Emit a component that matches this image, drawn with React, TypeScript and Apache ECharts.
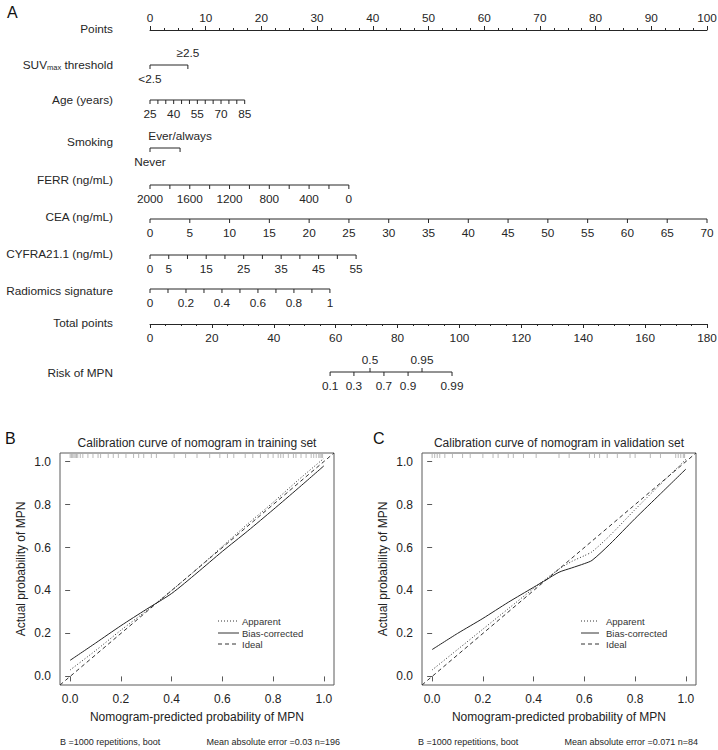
import React, { useEffect, useRef } from 'react';
import * as echarts from 'echarts';

const FONT = '"Liberation Sans", Arial, Helvetica, sans-serif';
const INK = '#262626';
const FRAME = '#5a5a5a';
const NOMO_FS = 11.8;

// ---------------- Panel A: nomogram ----------------
const rowNames = ['Points', 'SUVmax threshold', 'Age (years)', 'Smoking', 'FERR (ng/mL)', 'CEA (ng/mL)', 'CYFRA21.1 (ng/mL)', 'Radiomics signature', 'Total points', 'Risk of MPN'];

const suvLevels = ['<2.5', '≥2.5'];
const suvPoints = [0, 6.8];

const ageTicks = [25, 30, 35, 40, 45, 50, 55, 60, 65, 70, 75, 80, 85];
const ageLabels = [25, 40, 55, 70, 85];
const ageRange = [25, 85];
const agePoints = [0, 17];

const smokingLevels = ['Never', 'Ever/always'];
const smokingPoints = [0, 5.4];

const ferrTicks = [0, 200, 400, 600, 800, 1000, 1200, 1400, 1600, 1800, 2000];
const ferrLabels = [2000, 1600, 1200, 800, 400, 0];
const ferrRange = [0, 2000];
const ferrPoints = [35.7, 0];

const ceaTicks = [0, 5, 10, 15, 20, 25, 30, 35, 40, 45, 50, 55, 60, 65, 70];
const ceaLabels = [0, 5, 10, 15, 20, 25, 30, 35, 40, 45, 50, 55, 60, 65, 70];
const ceaRange = [0, 70];
const ceaPoints = [0, 100];

const cyfraTicks = [0, 5, 10, 15, 20, 25, 30, 35, 40, 45, 50, 55];
const cyfraLabels = [0, 5, 15, 25, 35, 45, 55];
const cyfraRange = [0, 55];
const cyfraPoints = [0, 37];

const radTicks = [0, 0.1, 0.2, 0.3, 0.4, 0.5, 0.6, 0.7, 0.8, 0.9, 1];
const radLabels = [0, 0.2, 0.4, 0.6, 0.8, 1];
const radRange = [0, 1];
const radPoints = [0, 32.3];

const riskValues = [0.1, 0.3, 0.5, 0.7, 0.9, 0.95, 0.99];
const riskTotalPoints = [58.2, 65.9, 71.1, 75.6, 83.4, 87.9, 97.6];
const riskAbove = [0.5, 0.95];

// ---------------- Panels B & C: calibration ----------------
const trainGrid = [0, 0.1, 0.2, 0.3, 0.4, 0.5, 0.6, 0.7, 0.8, 0.9, 1.0];
const trainApparent = [0.03, 0.12, 0.215, 0.305, 0.4, 0.5, 0.605, 0.71, 0.81, 0.915, 1.015];
const trainBias = [0.075, 0.155, 0.236, 0.312, 0.386, 0.482, 0.582, 0.677, 0.776, 0.877, 0.98];

const valGrid = [0, 0.1, 0.2, 0.3, 0.4, 0.45, 0.5, 0.55, 0.6, 0.63, 0.7, 0.8, 0.9, 1.0];
const valApparent = [0.03, 0.125, 0.22, 0.315, 0.41, 0.455, 0.5, 0.535, 0.562, 0.58, 0.655, 0.777, 0.895, 1.01];
const valBias = [0.125, 0.2, 0.27, 0.345, 0.415, 0.45, 0.485, 0.505, 0.525, 0.54, 0.615, 0.735, 0.85, 0.965];

const idealLine = [-0.04, 1.04];

const rugTrain = [0.0, 0.005, 0.01, 0.015, 0.02, 0.025, 0.03, 0.04, 0.05, 0.07, 0.09, 0.11, 0.12, 0.15, 0.17, 0.19, 0.22, 0.25, 0.27, 0.29, 0.32, 0.34, 0.41, 0.455, 0.5, 0.55, 0.59, 0.62, 0.645, 0.69, 0.72, 0.75, 0.78, 0.8, 0.82, 0.83, 0.84, 0.86, 0.88, 0.89, 0.91, 0.93, 0.95, 0.96, 0.97, 0.98, 0.985, 0.99, 0.995];
const rugVal = [0.0, 0.01, 0.02, 0.03, 0.05, 0.08, 0.12, 0.15, 0.2, 0.24, 0.26, 0.3, 0.32, 0.36, 0.41, 0.5, 0.54, 0.62, 0.64, 0.66, 0.69, 0.73, 0.78, 0.8, 0.86, 0.9, 0.96, 0.97, 0.98, 0.99, 0.995];

const calTicks = [0, 0.2, 0.4, 0.6, 0.8, 1.0];

// ---------------- layout (pixels) ----------------
const NOMO_TOP = 30;
const lineY = [30, 65, 100, 148, 185, 219, 255, 289, 324, 372];
const nameY = [29, 65, 100, 142, 180, 217, 254, 291, 323, 373];

const fmt = (v: number) => String(Math.round(v * 1000) / 1000);
const has = (arr: number[], v: number) => arr.some((a) => Math.abs(a - v) < 1e-9);
const toPts = (v: number, range: number[], pts: number[]) =>
  pts[0] + ((v - range[0]) / (range[1] - range[0])) * (pts[1] - pts[0]);

type TickItem = { p: number; y: number; label: string; tickDir: number; labelDir: number; len: number };

function contRow(ticks: number[], labels: number[], range: number[], pts: number[], rowIdx: number): TickItem[] {
  const y = lineY[rowIdx] - NOMO_TOP;
  return ticks.map((v) => ({ p: toPts(v, range, pts), y, label: has(labels, v) ? fmt(v) : '', tickDir: 1, labelDir: 1, len: 4 }));
}

function catRow(levels: string[], pts: number[], rowIdx: number, labelDirs: number[]): TickItem[] {
  const y = lineY[rowIdx] - NOMO_TOP;
  return levels.map((l, i) => ({ p: pts[i], y, label: l, tickDir: 1, labelDir: labelDirs[i], len: 4 }));
}

function textStyle(text: string, x: number, y: number, size: number, align: string, valign: string, extra: any = {}) {
  return {
    text, x, y,
    font: `${size}px ${FONT}`,
    fontSize: size,
    fontFamily: FONT,
    fill: INK,
    align, textAlign: align,
    verticalAlign: valign, textVerticalAlign: valign,
    ...extra,
  };
}

function tickSeries(items: TickItem[], xi: number, yi: number) {
  return {
    type: 'custom',
    xAxisIndex: xi,
    yAxisIndex: yi,
    silent: true,
    clip: false,
    data: items.map((it) => [it.p, it.y]),
    renderItem: (params: any, api: any) => {
      const it = items[params.dataIndex];
      const pt = api.coord([api.value(0), api.value(1)]);
      const children: any[] = [
        {
          type: 'line',
          shape: { x1: pt[0], y1: pt[1], x2: pt[0], y2: pt[1] + it.tickDir * it.len },
          style: { stroke: INK, lineWidth: 1 },
        },
      ];
      if (it.label) {
        const dy = it.labelDir > 0 ? 14 : -12;
        children.push({ type: 'text', style: textStyle(it.label, pt[0], pt[1] + dy, NOMO_FS, 'center', 'middle') });
      }
      return { type: 'group', children };
    },
  };
}

function axisLineSeries(p0: number, p1: number, y: number, xi: number, yi: number) {
  return {
    type: 'line', xAxisIndex: xi, yAxisIndex: yi, silent: true, clip: false,
    data: [[p0, y], [p1, y]], symbol: 'none',
    lineStyle: { color: INK, width: 1 },
  };
}

function buildOption() {
  const series: any[] = [];

  const rows: { items: TickItem[]; p0: number; p1: number; y: number }[] = [];
  const addRow = (items: TickItem[]) => {
    const ps = items.map((i) => i.p);
    rows.push({ items, p0: Math.min(...ps), p1: Math.max(...ps), y: items[0].y });
  };
  addRow(catRow(suvLevels, suvPoints, 1, [1, -1]));
  addRow(contRow(ageTicks, ageLabels, ageRange, agePoints, 2));
  addRow(catRow(smokingLevels, smokingPoints, 3, [1, -1]));
  addRow(contRow(ferrTicks, ferrLabels, ferrRange, ferrPoints, 4));
  addRow(contRow(ceaTicks, ceaLabels, ceaRange, ceaPoints, 5));
  addRow(contRow(cyfraTicks, cyfraLabels, cyfraRange, cyfraPoints, 6));
  addRow(contRow(radTicks, radLabels, radRange, radPoints, 7));
  rows.forEach((r) => {
    series.push(axisLineSeries(r.p0, r.p1, r.y, 0, 0));
    series.push(tickSeries(r.items, 0, 0));
  });

  const riskY = lineY[9] - lineY[8];
  const riskItems: TickItem[] = riskValues.map((v, i) => {
    const up = has(riskAbove, v);
    return { p: riskTotalPoints[i], y: riskY, label: fmt(v), tickDir: up ? -1 : 1, labelDir: up ? -1 : 1, len: 4 };
  });
  series.push(axisLineSeries(riskTotalPoints[0], riskTotalPoints[riskTotalPoints.length - 1], riskY, 1, 1));
  series.push(tickSeries(riskItems, 1, 1));

  series.push({
    type: 'custom', xAxisIndex: 0, yAxisIndex: 0, silent: true, clip: false,
    data: rowNames.map((_, i) => [0, nameY[i] - NOMO_TOP]),
    renderItem: (params: any, api: any) => {
      const pt = api.coord([api.value(0), api.value(1)]);
      const name = rowNames[params.dataIndex];
      const x = pt[0] - 37;
      if (name.startsWith('SUVmax')) {
        return {
          type: 'text',
          style: {
            ...textStyle('{a|SUV}{b|max}{a| threshold}', x, pt[1], NOMO_FS, 'right', 'middle'),
            rich: {
              a: { fontSize: NOMO_FS, fontFamily: FONT, fill: INK, color: INK },
              b: { fontSize: 7.5, fontFamily: FONT, fill: INK, color: INK, padding: [5, 0, 0, 0] },
            },
          },
        };
      }
      return { type: 'text', style: textStyle(name, x, pt[1], NOMO_FS, 'right', 'middle') };
    },
  });

  const calSeries = (gi: number, grid: number[], app: number[], bias: number[], rug: number[]) => {
    series.push({
      type: 'line', xAxisIndex: gi, yAxisIndex: gi, silent: true, symbol: 'none',
      data: idealLine.map((v) => [v, v]),
      lineStyle: { color: '#333', width: 1, type: [4, 3] },
    });
    series.push({
      type: 'line', xAxisIndex: gi, yAxisIndex: gi, silent: true, symbol: 'none', smooth: 0.25,
      data: grid.map((x, i) => [x, app[i]]),
      lineStyle: { color: '#333', width: 1, type: [1, 2] },
    });
    series.push({
      type: 'line', xAxisIndex: gi, yAxisIndex: gi, silent: true, symbol: 'none', smooth: 0.25,
      data: grid.map((x, i) => [x, bias[i]]),
      lineStyle: { color: '#222', width: 1 },
    });
    series.push({
      type: 'custom', xAxisIndex: gi, yAxisIndex: gi, silent: true, clip: false,
      data: rug.map((v) => [v, 1.04]),
      renderItem: (params: any, api: any) => {
        const pt = api.coord([api.value(0), api.value(1)]);
        return {
          type: 'line',
          shape: { x1: pt[0], y1: pt[1] + 1, x2: pt[0], y2: pt[1] + 5 },
          style: { stroke: '#8a8a8a', lineWidth: 1, opacity: 0.6 },
        };
      },
    });
  };
  calSeries(2, trainGrid, trainApparent, trainBias, rugTrain);
  calSeries(3, valGrid, valApparent, valBias, rugVal);

  const calX = (gi: number) => ({
    type: 'value', gridIndex: gi, min: -0.04, max: 1.04,
    axisLine: { show: false },
    axisTick: { show: true, customValues: calTicks, length: 5, lineStyle: { color: FRAME } },
    axisLabel: { customValues: calTicks, formatter: (v: number) => v.toFixed(1), fontSize: 12, color: '#222', margin: 8, fontFamily: FONT },
    splitLine: { show: false },
    name: 'Nomogram-predicted probability of MPN',
    nameLocation: 'middle', nameGap: 26,
    nameTextStyle: { fontSize: 12, color: '#222', fontFamily: FONT },
  });
  const calY = (gi: number) => ({
    type: 'value', gridIndex: gi, min: -0.04, max: 1.04,
    axisLine: { show: false },
    axisTick: { show: true, customValues: calTicks, length: 5, lineStyle: { color: FRAME } },
    axisLabel: { customValues: calTicks, formatter: (v: number) => v.toFixed(1), fontSize: 12, color: '#222', margin: 9, fontFamily: FONT },
    splitLine: { show: false },
    name: 'Actual probability of MPN',
    nameLocation: 'middle', nameGap: 33,
    nameTextStyle: { fontSize: 12, color: '#222', fontFamily: FONT },
  });

  const legend = (x0: number, x1: number, tx: number) => {
    const items = [
      { label: 'Apparent', y: 621, dash: [1, 2] },
      { label: 'Bias-corrected', y: 633, dash: null },
      { label: 'Ideal', y: 644, dash: [4, 3] },
    ];
    const els: any[] = [];
    items.forEach((it) => {
      els.push({
        type: 'line', silent: true,
        shape: { x1: x0, y1: it.y, x2: x1, y2: it.y },
        style: { stroke: '#333', lineWidth: 1, lineDash: it.dash || undefined },
      });
      els.push({ type: 'text', silent: true, style: textStyle(it.label, tx, it.y, 9.5, 'left', 'middle', { fill: '#333' }) });
    });
    return els;
  };

  const graphic: any[] = [
    { type: 'text', silent: true, style: textStyle('A', 7, 12, 16, 'left', 'middle', { fill: '#111' }) },
    { type: 'text', silent: true, style: textStyle('B', 5, 438, 16, 'left', 'middle', { fill: '#111' }) },
    { type: 'text', silent: true, style: textStyle('C', 373, 438, 16, 'left', 'middle', { fill: '#111' }) },
    { type: 'text', silent: true, style: textStyle('Calibration curve of nomogram in training set', 197, 443, 12, 'center', 'middle') },
    { type: 'text', silent: true, style: textStyle('Calibration curve of nomogram in validation set', 559, 443, 12, 'center', 'middle') },
    { type: 'text', silent: true, style: textStyle('B =1000 repetitions, boot', 60, 742, 9, 'left', 'middle') },
    { type: 'text', silent: true, style: textStyle('Mean absolute error =0.03 n=196', 340, 742, 9, 'right', 'middle') },
    { type: 'text', silent: true, style: textStyle('B =1000 repetitions, boot', 418, 742, 9, 'left', 'middle') },
    { type: 'text', silent: true, style: textStyle('Mean absolute error =0.071 n=84', 698, 742, 9, 'right', 'middle') },
    ...legend(218, 239, 242),
    ...legend(581, 599, 606),
  ];

  return {
    animation: false,
    backgroundColor: '#ffffff',
    textStyle: { fontFamily: FONT },
    grid: [
      { left: 150, top: NOMO_TOP, width: 557, height: 342, show: false, outerBoundsMode: 'none' },
      { left: 150, top: lineY[8], width: 557, height: lineY[9] - lineY[8], show: false, outerBoundsMode: 'none' },
      { left: 60, top: 453, width: 274, height: 232, show: true, borderColor: FRAME, borderWidth: 1, backgroundColor: 'transparent', outerBoundsMode: 'none' },
      { left: 422, top: 453, width: 274, height: 232, show: true, borderColor: FRAME, borderWidth: 1, backgroundColor: 'transparent', outerBoundsMode: 'none' },
    ],
    xAxis: [
      {
        type: 'value', gridIndex: 0, position: 'top', min: 0, max: 100, interval: 10,
        axisLine: { show: true, lineStyle: { color: INK, width: 1 } },
        axisTick: { show: true, length: 4, lineStyle: { color: INK } },
        minorTick: { show: true, splitNumber: 4, length: 2, lineStyle: { color: INK } },
        axisLabel: { fontSize: NOMO_FS, color: INK, margin: 6, fontFamily: FONT },
        splitLine: { show: false }, minorSplitLine: { show: false },
      },
      {
        type: 'value', gridIndex: 1, position: 'top', min: 0, max: 180, interval: 20,
        axisLine: { show: true, lineStyle: { color: INK, width: 1 } },
        axisTick: { show: true, inside: true, length: 4, lineStyle: { color: INK } },
        minorTick: { show: true, splitNumber: 4, length: 2, lineStyle: { color: INK } },
        axisLabel: { inside: true, fontSize: NOMO_FS, color: INK, margin: 8, fontFamily: FONT },
        splitLine: { show: false }, minorSplitLine: { show: false },
      },
      calX(2),
      calX(3),
    ],
    yAxis: [
      { type: 'value', gridIndex: 0, min: 0, max: 342, inverse: true, show: false },
      { type: 'value', gridIndex: 1, min: 0, max: lineY[9] - lineY[8], inverse: true, show: false },
      calY(2),
      calY(3),
    ],
    series,
    graphic,
  };
}

export default function App() {
  const ref = useRef<HTMLDivElement>(null);
  useEffect(() => {
    document.body.style.margin = '0';
    if (!ref.current) return;
    const chart = echarts.init(ref.current, undefined, { renderer: 'svg' });
    chart.setOption(buildOption() as any);
    return () => chart.dispose();
  }, []);
  return <div ref={ref} style={{ width: 718, height: 750 }} />;
}
